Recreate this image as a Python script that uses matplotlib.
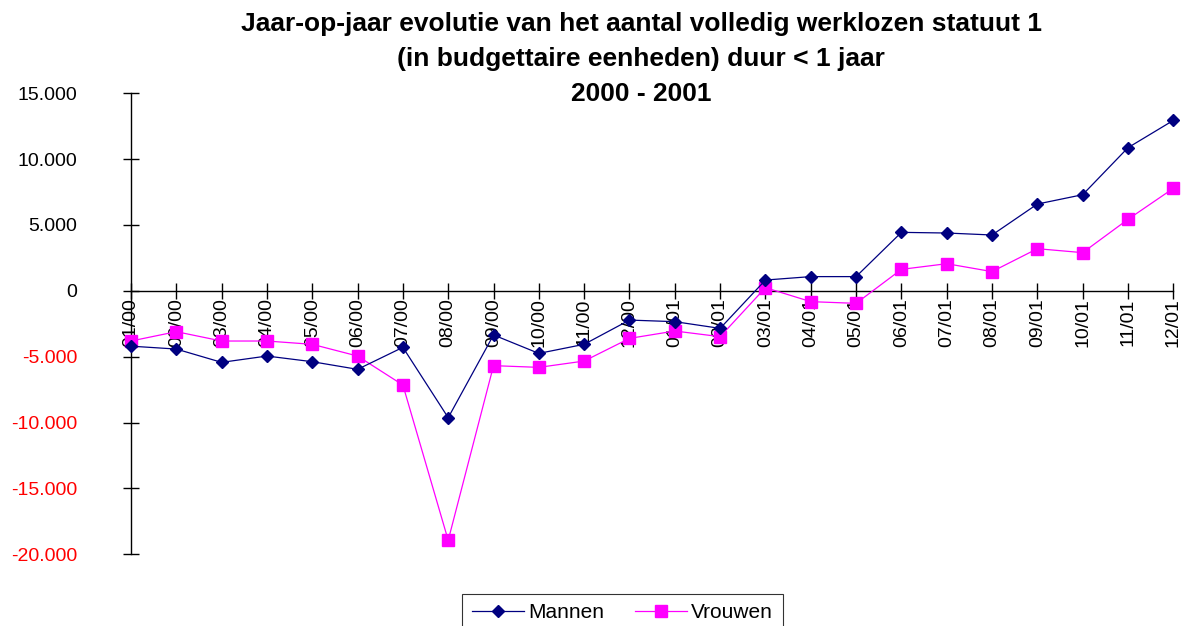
import matplotlib.pyplot as plt
from matplotlib.ticker import FuncFormatter
import numpy as np

plt.rcParams['font.family'] = ['Liberation Sans', 'DejaVu Sans']

# Months (mm/yy)
months = ['01/00', '02/00', '03/00', '04/00', '05/00', '06/00', '07/00', '08/00',
          '09/00', '10/00', '11/00', '12/00', '01/01', '02/01', '03/01', '04/01',
          '05/01', '06/01', '07/01', '08/01', '09/01', '10/01', '11/01', '12/01']

# Year-on-year change
mannen = [-4200, -4420, -5430, -4950, -5380, -5960, -4290, -9630,
          -3350, -4750, -4060, -2220, -2340, -2850, 820, 1080,
          1080, 4440, 4390, 4240, 6590, 7300, 10870, 12940]
vrouwen = [-3810, -3100, -3810, -3810, -4060, -4950, -7150, -18940,
           -5680, -5810, -5330, -3610, -3050, -3480, 240, -820,
           -950, 1630, 2060, 1460, 3200, 2900, 5430, 7780]

yticks = [-20000, -15000, -10000, -5000, 0, 5000, 10000, 15000]

fig = plt.figure(figsize=(11.81, 6.26), dpi=100)
ax = fig.add_axes([0.1109, 0.1146, 0.8826, 0.7364])

x = np.arange(len(months))
ax.plot(x, mannen, color='#000080', linewidth=0.9, marker='D', markersize=6.5,
        label='Mannen', clip_on=False, zorder=4)
ax.plot(x, vrouwen, color='#FF00FF', linewidth=0.9, marker='s', markersize=8.5,
        label='Vrouwen', clip_on=False, zorder=3)

ax.set_xlim(0, len(months) - 1)
ax.set_ylim(-20000, 15000)

# Spines: y-axis on the left, x-axis through zero
ax.spines['top'].set_visible(False)
ax.spines['right'].set_visible(False)
ax.spines['bottom'].set_position(('data', 0))
ax.spines['left'].set_linewidth(1.0)
ax.spines['bottom'].set_linewidth(1.0)

ax.set_xticks(x)
ax.set_xticklabels(months, rotation=90, va='top', ha='center')
ax.set_yticks(yticks)
ax.yaxis.set_major_formatter(FuncFormatter(lambda v, p: f'{int(v):,}'.replace(',', '.')))

ax.tick_params(axis='x', direction='inout', length=11, width=1, labelsize=14, pad=0)
ax.tick_params(axis='y', direction='inout', length=11, width=1, labelsize=14, pad=33)

for lbl, v in zip(ax.get_yticklabels(), yticks):
    lbl.set_color('#FF0000' if v < 0 else 'black')

fig.text(0.543, 0.981,
         'Jaar-op-jaar evolutie van het aantal volledig werklozen statuut 1\n'
         '(in budgettaire eenheden) duur < 1 jaar\n2000 - 2001',
         ha='center', va='top', fontsize=19, fontweight='bold', linespacing=1.58)

leg = fig.legend(loc='upper center', bbox_to_anchor=(0.527, 0.0511), ncol=2,
                 fontsize=15, frameon=True, fancybox=False, edgecolor='black',
                 handlelength=2.5, handletextpad=0.2, columnspacing=1.5,
                 borderpad=0.45, borderaxespad=0)
leg.get_frame().set_linewidth(0.8)

fig.savefig('out.png', dpi=100)
